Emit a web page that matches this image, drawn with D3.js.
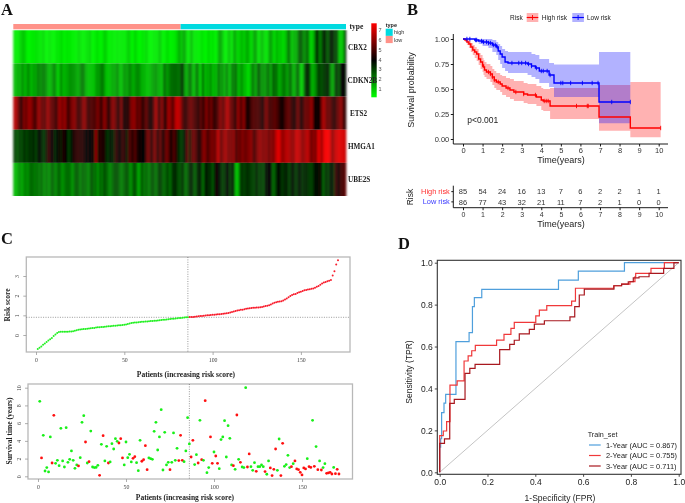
<!DOCTYPE html>
<html><head><meta charset="utf-8">
<style>
html,body{margin:0;padding:0;background:#fff}
svg{display:block;filter:blur(0.35px)}
text{font-family:"Liberation Sans",Arial,sans-serif}
</style>
<script src="https://cdn.jsdelivr.net/npm/d3@7"></script>
</head><body><svg id="c" width="685" height="503"></svg>
<script>
const geneNames=["CBX2","CDKN2B","ETS2","HMGA1","UBE2S"];
const groupCounts=[["low",86],["high",85]];
const colorbarTicks=[1,2,3,4,5,6,7];
const cbx2=[.5,.4,.4,.7,.9,1.0,.6,.3,.3,.5,.4,.6,.5,.5,.4,.8,.3,.3,.5,.4,.3,.3,.6,.4,.7,.5,.3,.6,.4,.5,.3,.4,.3,.7,.5,.4,.3,.6,.5,.8,.3,.3,.5,.6,.3,.4,.7,.9,.4,.3,.5,.4,.3,.6,.3,.5,.4,.4,.7,.9,.4,.3,.8,.5,.3,.3,.6,.4,.8,.3,.3,.3,.5,.4,.6,1.0,.4,.3,.5,.7,.3,.4,.4,.6,.9,1.5,.8,1.6,1.2,.5,.4,1.3,.6,.4,.5,.3,.6,.5,.3,.4,.8,.3,.7,.3,.4,1.2,1.6,1.0,.5,.3,1.0,.9,.4,1.6,1.1,.7,.9,1.3,.8,1.2,1.5,.9,.6,1.3,1.7,.8,.4,1.3,.9,.6,.5,1.3,1.7,.9,.7,1.4,.8,1.1,.6,.9,1.2,2.6,1.4,.9,1.5,1.2,2.2,2.8,2.4,1.7,2.1,2.5,.9,.8,1.4,3.0,3.4,1.9,2.5,3.6,3.3,2.4,3.1,3.7,3.4,2.6,3.3,1.0,.9,1.2,3.2];
const cdkn2b=[1.3,1.0,1.6,1.1,1.9,1.4,1.2,2.0,1.5,1.1,1.7,1.3,2.1,1.9,1.8,2.2,1.9,1.5,1.1,1.3,1.8,2.0,1.0,.9,2.1,1.2,1.3,1.4,1.6,1.8,1.7,1.7,1.5,1.3,1.8,2.3,1.9,1.2,1.1,1.0,1.1,1.0,1.6,1.6,1.7,2.3,1.9,1.2,1.0,1.1,1.3,1.5,1.3,2.1,1.2,1.0,1.5,1.8,1.4,2.0,1.8,1.3,1.6,1.9,1.9,1.5,1.2,1.4,1.0,1.1,1.2,1.5,1.6,1.8,1.3,1.4,1.0,2.6,1.8,1.7,2.2,2.3,2.4,2.4,2.3,2.2,3.3,2.8,1.3,1.4,2.3,2.1,1.0,1.4,2.6,1.2,.9,2.9,1.0,1.6,1.2,2.1,.9,1.6,.9,2.8,1.3,2.2,1.0,2.2,1.5,1.0,2.4,1.8,2.6,1.2,1.3,1.9,1.1,1.2,.6,.8,1.8,2.3,1.2,2.3,2.8,1.6,1.9,1.5,2.3,2.1,1.4,2.7,2.2,2.3,1.3,1.6,2.0,2.3,1.5,1.8,2.7,1.4,1.2,2.0,2.7,1.1,.7,2.3,3.3,3.6,2.7,1.2,1.5,1.9,2.9,3.0,2.6,3.2,3.0,3.7,2.9,1.6,1.4,3.2,3.0,2.6,3.9,3.9,3.8];
const ets2=[6.6,6.5,5.6,5.0,4.3,6.0,5.3,6.0,6.2,5.8,5.2,4.7,6.0,6.2,5.3,5.6,5.0,6.3,5.9,5.4,5.3,5.0,4.8,6.2,6.0,5.6,6.3,5.2,4.7,5.6,5.8,6.1,5.3,4.8,5.0,5.6,6.2,5.5,4.7,5.0,5.2,4.9,5.3,5.8,5.1,4.5,6.0,5.8,4.6,4.5,5.8,6.0,5.5,4.8,4.4,6.0,4.2,4.3,4.5,4.4,5.8,6.0,6.1,5.0,5.6,5.3,4.3,5.0,5.5,4.5,4.4,4.3,5.6,6.6,4.7,5.2,6.0,4.8,4.2,6.2,6.2,5.3,5.4,6.8,6.8,6.7,5.6,4.9,4.5,5.0,5.4,5.6,5.2,5.0,4.8,4.5,5.4,4.4,5.3,6.0,4.4,5.8,5.0,4.5,4.9,5.3,6.1,5.3,5.6,6.4,6.6,5.5,5.4,5.0,4.3,6.2,5.4,5.2,6.2,4.4,4.2,4.5,5.0,5.2,5.0,5.1,4.9,4.6,4.1,5.6,5.7,4.8,5.0,5.1,5.3,5.0,4.7,4.2,4.0,4.8,5.2,5.4,5.0,4.6,4.2,5.0,5.7,4.3,4.4,5.2,5.6,5.4,5.8,6.2,3.8,4.3,4.0,3.9,5.8,6.6,5.9,5.3,5.6,5.0,4.7,4.5,5.4,5.6,6.2,5.0,4.6];
const hmga1=[3.0,2.8,2.6,3.2,2.7,3.4,2.9,3.0,3.3,3.0,3.7,2.8,3.5,4.0,3.5,3.0,3.4,4.4,4.8,4.0,4.1,3.3,3.8,4.1,3.4,4.3,4.2,3.7,2.9,3.5,4.0,4.6,4.4,4.8,4.4,4.6,4.2,4.0,4.1,4.0,4.2,3.8,6.3,3.7,4.6,4.3,4.4,3.6,3.0,3.7,3.5,3.4,4.8,4.4,3.9,4.4,4.8,4.3,3.4,5.1,5.0,4.0,5.3,4.3,4.2,4.1,3.9,3.9,5.3,5.7,5.0,4.3,6.0,5.3,3.9,5.6,4.6,4.2,5.6,5.5,4.4,4.3,5.2,4.6,3.5,3.2,2.9,3.4,3.8,5.6,3.4,5.0,5.6,5.3,4.8,4.2,4.7,5.8,6.0,5.0,5.2,5.6,5.8,5.4,6.0,7.0,5.2,5.8,6.2,6.4,5.5,6.0,5.6,6.2,4.4,5.7,5.2,5.9,5.7,5.4,5.8,5.9,6.1,4.8,5.3,5.8,6.2,6.0,5.8,5.9,6.0,5.3,6.1,5.6,6.3,7.0,7.4,6.5,6.0,6.4,6.7,6.6,6.3,6.0,6.2,7.0,6.8,6.6,5.9,6.2,6.5,6.8,5.9,5.5,6.2,5.4,7.1,7.2,6.0,7.3,7.6,7.6,7.5,6.4,6.0,7.0,6.9,7.4,7.0,7.2,6.8];
const ube2s=[1.3,1.1,1.6,1.8,1.4,1.9,2.0,1.7,2.3,2.4,2.2,2.1,2.4,1.9,2.6,1.8,2.0,2.2,1.7,2.4,2.5,1.9,2.1,2.7,2.0,1.7,2.2,2.3,2.4,2.1,1.6,2.4,2.6,2.5,1.9,2.6,2.2,2.4,1.8,2.3,2.9,2.1,2.5,1.6,2.7,2.0,2.8,2.6,2.3,1.9,2.1,2.6,2.7,2.8,2.4,2.0,2.3,2.5,2.9,2.2,1.7,2.5,2.8,2.2,1.2,2.4,2.6,2.0,2.7,1.9,2.4,2.8,2.5,2.1,2.9,3.1,2.7,2.3,2.6,3.0,2.2,3.0,3.3,3.4,2.8,2.6,3.0,3.2,2.1,2.6,3.2,3.5,3.0,2.4,3.3,3.6,3.4,2.2,3.5,3.7,3.1,3.4,2.4,3.8,4.2,3.9,3.4,2.9,3.1,3.6,3.9,2.9,3.6,3.2,1.0,1.2,2.8,3.3,2.9,3.1,3.4,3.0,3.1,2.8,3.2,3.5,2.7,3.4,2.6,3.7,3.8,4.0,3.9,2.3,2.7,3.5,3.9,3.3,3.1,3.4,3.6,2.9,3.2,3.8,3.3,3.0,3.5,3.9,3.1,3.3,3.4,3.2,3.0,2.9,3.5,3.8,3.6,4.2,3.4,2.2,3.7,2.8,3.3,3.9,3.2,4.8,4.6,3.8,5.0,4.9,5.3];

const kmTicks=[0,1,2,3,4,5,6,7,8,9,10];
const kmYTicks=[0,.25,.5,.75,1];
const highTime=[0,.1,.2,.3,.4,.5,.6,.7,.8,.9,1,1.05,1.1,1.2,1.4,1.5,1.6,1.7,1.9,2,2.2,2.4,2.6,3.1,3.3,3.75,4,4.1,4.45,6.95,8.55,10.1];
const highSurv=[1,.99,.97,.95,.92,.89,.87,.85,.8,.77,.74,.72,.69,.67,.65,.62,.59,.57,.55,.53,.51,.49,.47,.45,.44,.42,.39,.38,.33,.22,.11,.11];
const highUpper=[1,1,.99,.98,.96,.94,.92,.9,.86,.84,.81,.79,.77,.75,.73,.7,.68,.66,.64,.63,.61,.6,.58,.56,.55,.53,.51,.5,.51,.54,.57,.57];
const highLower=[1,.97,.94,.91,.87,.84,.81,.78,.74,.7,.67,.64,.62,.6,.57,.54,.51,.49,.47,.44,.42,.4,.38,.36,.35,.33,.29,.28,.2,.083,.017,.017];
const lowTime=[0,.6,.8,1,1.3,1.5,1.7,1.8,1.9,2,2.15,2.3,3.3,3.5,3.7,3.9,4.4,4.65,6.95,8.55];
const lowSurv=[1,.99,.98,.97,.96,.94,.92,.88,.85,.82,.77,.76,.75,.73,.71,.68,.64,.56,.37,.37];
const lowUpper=[1,1,1,1,1,.99,.97,.95,.93,.9,.88,.87,.87,.85,.84,.8,.76,.745,.87,.87];
const lowLower=[1,.97,.95,.93,.91,.87,.84,.79,.75,.71,.68,.66,.64,.62,.6,.56,.52,.42,.157,.157];
const highCensor=[1,1.3,1.4,1.5,1.6,1.8,2.3,2.7,3.1,3.7,4.15,4.25,4.35,5.8,6.35,6.4,10.1];
const lowCensor=[.2,.35,.65,.7,.95,1.05,1.2,1.3,1.4,1.55,1.65,1.75,2.5,2.85,3,3.2,3.35,3.5,3.75,4,4.1,4.3,4.45,5,5.1,5.5,6.1,6.6,6.9,7.6,8.55];
const riskTableHigh=[85,54,24,16,13,7,6,2,2,1,1];
const riskTableLow=[86,77,43,32,21,11,7,2,1,0,0];

const riskScore=[-.71,-.65,-.58,-.5,-.43,-.35,-.28,-.22,-.15,-.05,.03,.1,.15,.16,.16,.17,.17,.17,.18,.18,.19,.21,.24,.27,.28,.29,.3,.31,.32,.33,.34,.35,.36,.38,.39,.4,.41,.41,.42,.43,.44,.45,.46,.47,.47,.48,.49,.5,.51,.52,.54,.56,.58,.61,.62,.63,.64,.65,.66,.67,.68,.69,.69,.7,.71,.71,.72,.73,.74,.75,.76,.77,.78,.79,.8,.81,.82,.83,.84,.85,.86,.87,.88,.89,.9,.9,.91,.92,.92,.93,.94,.95,.96,.97,.98,.99,1,1.01,1.02,1.03,1.03,1.04,1.05,1.06,1.07,1.08,1.09,1.1,1.12,1.15,1.17,1.19,1.22,1.24,1.26,1.28,1.29,1.31,1.33,1.35,1.36,1.37,1.38,1.39,1.4,1.4,1.41,1.43,1.45,1.47,1.49,1.51,1.55,1.6,1.64,1.67,1.69,1.7,1.72,1.76,1.8,1.85,1.92,1.98,2.03,2.07,2.09,2.13,2.17,2.2,2.24,2.27,2.29,2.31,2.33,2.35,2.37,2.4,2.45,2.49,2.56,2.62,2.67,2.7,2.73,2.76,2.8,3.03,3.24,3.58,3.8];
const riskThreshold=.9;
const lowCount=86;
const survTime=[8.46,2.07,4.62,.6,.98,.49,4.44,1.5,6.88,1.47,1.8,1.2,5.41,1.73,1.05,5.49,1.58,1.92,2.86,1.8,.9,1.28,1.17,2.1,6.09,6.84,3.87,1.5,1.65,5.11,1.05,.98,1,1.24,.11,3.61,4.59,1.73,3.38,1.5,1.62,3.68,3.08,4.25,3.95,3.76,4.25,2.07,1.28,3.87,2.1,2.48,1.62,2.03,2.22,1.54,.64,4.06,1.7,1.88,3.46,.75,2.07,1.99,1.92,5.08,6.09,2.97,4.44,7.52,.71,4.96,1.28,1.58,.75,1.58,4.89,1.8,3.16,1.77,4.62,1.8,1.65,2.86,6.62,3.65,2.18,4.06,1.32,2.44,1.5,6.32,1.88,1.8,8.53,.41,.98,4.44,1.47,2.74,2.29,1.47,.86,4.14,4.44,6.28,2.18,5.71,4.29,1.28,1.2,.79,6.92,1.92,1.58,1.05,.98,10,1.05,2.52,1.09,.68,1.54,.56,1.09,1.09,1.28,1.09,.53,.23,1.73,.94,.08,.79,3.08,.68,4.21,.08,3.72,1.13,1.32,2.37,.98,1.09,1.43,1.73,.83,.75,.45,.15,.94,.83,1.99,1.09,1,6.32,1.13,3.35,.75,1.73,.71,.98,1.43,.34,.38,.45,.26,1,.3,.79,.26];
const survDead=[0,1,0,0,0,0,0,1,1,0,0,0,0,0,0,0,0,0,0,0,0,0,1,0,0,0,1,0,1,0,0,0,0,0,1,0,1,0,0,1,0,0,0,0,0,1,1,1,0,0,0,0,0,1,1,0,0,0,1,1,1,1,0,0,0,0,0,0,0,0,0,0,0,0,1,0,0,0,0,1,1,1,0,0,0,0,1,1,0,0,1,0,1,0,1,0,0,1,1,0,1,1,0,0,0,0,0,0,0,0,1,0,1,0,1,0,0,0,1,1,0,0,0,1,0,0,0,0,1,0,0,1,1,1,1,0,0,1,1,0,0,0,0,1,0,1,1,1,1,1,1,1,0,1,1,0,1,0,1,0,1,0,0,1,1,1,1,0,1,1,1];
const patientTicks=[0,50,100,150];
const riskTicks=[0,1,2,3];
const survTicks=[0,2,4,6,8,10];

const rocTicks=[0,.2,.4,.6,.8,1];
const roc1Fpr=[0,.004,.008,.018,.025,.068,.123,.137,.145,.176,.497,.58,.773,1];
const roc1Tpr=[.12,.16,.285,.33,.372,.623,.666,.79,.833,.873,.917,.96,1,1];
const roc2Fpr=[0,.015,.029,.043,.073,.102,.119,.134,.149,.238,.269,.298,.312,.402,.417,.448,.552,.568,.728,.761,.796,.817,.82,.884,.94,1];
const roc2Tpr=[.175,.197,.242,.416,.436,.531,.555,.58,.606,.631,.658,.687,.715,.746,.774,.795,.817,.878,.89,.898,.91,.933,.949,.973,1,1];
const roc3Fpr=[0,.02,.042,.061,.106,.126,.148,.251,.293,.312,.333,.375,.396,.438,.545,.565,.584,.605,.729,.761,.789,.81,.834,.876,.937,.98,1];
const roc3Tpr=[.138,.159,.329,.348,.472,.496,.515,.585,.61,.63,.66,.682,.707,.723,.742,.79,.846,.874,.89,.898,.909,.928,.933,.949,.973,1,1];
const rocLabels=["1-Year (AUC = 0.867)","2-Year (AUC = 0.755)","3-Year (AUC = 0.711)"];
const rocColors=["#4f9fdc","#f0383a","#a8181f"];

const svg=d3.select("#c");
const serif='"Liberation Serif","Times New Roman",serif';
function txt(x,y,s,o={}){
  const t=svg.append("text").attr("x",x).attr("y",y).text(s)
   .attr("font-size",o.size||8).attr("fill",o.fill||"#222");
  if(o.anchor)t.attr("text-anchor",o.anchor);
  if(o.serif)t.style("font-family",serif);
  if(o.bold)t.attr("font-weight","bold");
  if(o.rot!==undefined)t.attr("transform",`rotate(${o.rot},${x},${y})`);
  return t;
}
[["A",1,15],["B",407,15],["C",1,244],["D",398,249]].forEach(d=>txt(d[1],d[2],d[0],{size:16.5,serif:true,bold:true,fill:"#111"}));

/* A: heatmap */
const series=[cbx2,cdkn2b,ets2,hmga1,ube2s];
const hx=d3.scaleBand().domain(d3.range(cbx2.length)).range([13.3,346]);
const hy=d3.scaleBand().domain(geneNames).range([30.3,196]);
const hc=d3.scaleLinear().domain([.15,3.92,7.7]).range(["#00ff00","#000000","#ff0000"]);
const defs=svg.append("defs");
const blurF=defs.append("filter").attr("id","hb").attr("x","-2%").attr("width","104%").attr("y",0).attr("height","100%");
blurF.append("feGaussianBlur").attr("stdDeviation","0.9 0");
const heat=svg.append("g").attr("filter","url(#hb)");
series.forEach((vals,r)=>{
  heat.append("g").selectAll("rect").data(vals).join("rect")
   .attr("x",(d,i)=>hx(i)).attr("width",hx.bandwidth()+.3)
   .attr("y",hy(geneNames[r])).attr("height",hy.bandwidth())
   .attr("fill",d=>hc(d));
});
const typeColor={high:"#00DAE0",low:"#FF9289"};
let cum=0;
groupCounts.forEach(([n,c])=>{
  svg.append("rect").attr("x",hx(cum)).attr("y",24).attr("height",5.3)
   .attr("width",c*hx.step()).attr("fill",typeColor[n]);
  cum+=c;
});
txt(349.5,29,"type",{size:7.5,serif:true,bold:true});
const cbY=d3.scaleLinear().domain([.15,7.7]).range([97.3,23.3]);
const grad=defs.append("linearGradient").attr("id","cb").attr("x1",0).attr("x2",0).attr("y1",1).attr("y2",0);
[[0,"#00ff00"],[.5,"#000"],[1,"#ff0000"]].forEach(s=>grad.append("stop").attr("offset",s[0]).attr("stop-color",s[1]));
svg.append("rect").attr("x",371.3).attr("y",23.3).attr("width",5.4).attr("height",74).attr("fill","url(#cb)");
const glabelX={CBX2:348,CDKN2B:347.5,ETS2:350,HMGA1:348,UBE2S:348};
geneNames.forEach(g=>txt(glabelX[g],hy(g)+hy.bandwidth()/2+2.5+(g==="CBX2"?1:0),g,{size:7.2,serif:true,bold:true}));
colorbarTicks.forEach(t=>txt(378.5,cbY(t)+2,t,{size:5.5,fill:"#555"}));
txt(385.7,27,"type",{size:5.5,bold:true,fill:"#222"});
svg.append("rect").attr("x",385.7).attr("y",28.7).attr("width",7).attr("height",7.2).attr("fill",typeColor.high);
svg.append("rect").attr("x",385.7).attr("y",35.9).attr("width",7).attr("height",7.2).attr("fill",typeColor.low);
txt(394,34,"high",{size:5.5,fill:"#333"});
txt(394,41.5,"low",{size:5.5,fill:"#333"});

/* B: Kaplan-Meier */
const kx=d3.scaleLinear().domain([0,10]).range([463,658.7]);
const ky=d3.scaleLinear().domain([0,1]).range([139,39]);
function band(t,u,l,c){
  const a=d3.area().x((d,i)=>kx(t[i])).y0((d,i)=>ky(l[i])).y1((d,i)=>ky(u[i])).curve(d3.curveStepAfter);
  svg.append("path").attr("d",a(t)).attr("fill",c).attr("opacity",.3);
}
function kline(t,s,c,cen){
  const l=d3.line().x((d,i)=>kx(t[i])).y((d,i)=>ky(s[i])).curve(d3.curveStepAfter);
  svg.append("path").attr("d",l(t)).attr("fill","none").attr("stroke",c).attr("stroke-width",1.4);
  const g=svg.append("g").attr("stroke",c).attr("stroke-width",.9);
  cen.forEach(v=>{
    const sv=s[Math.max(0,d3.bisectRight(t,v)-1)];
    g.append("line").attr("x1",kx(v)).attr("x2",kx(v)).attr("y1",ky(sv)-2.2).attr("y2",ky(sv)+2.2);
  });
}
band(highTime,highUpper,highLower,"#ff0000");
band(lowTime,lowUpper,lowLower,"#0000ff");
kline(highTime,highSurv,"#ff0000",highCensor);
kline(lowTime,lowSurv,"#0000ff",lowCensor);
function styleAxis(g,size,fill,stroke,sw){
  g.selectAll("text").attr("font-size",size).attr("fill",fill).style("font-family",'"Liberation Sans",Arial,sans-serif');
  g.selectAll("line,path").attr("stroke",stroke).attr("stroke-width",sw);
}
let g=svg.append("g").attr("transform","translate(0,144)").call(d3.axisBottom(kx).tickValues(kmTicks).tickFormat(d3.format("d")).tickSize(2.5).tickPadding(1.5));
g.select(".domain").remove();
g.append("path").attr("d","M453.3,0H668").attr("stroke","#000");
styleAxis(g,7.5,"#333","#000",.9);
g=svg.append("g").attr("transform","translate(453.3,0)").call(d3.axisLeft(ky).tickValues(kmYTicks).tickFormat(d3.format(".2f")).tickSize(2.5).tickPadding(1.5));
g.select(".domain").remove();
g.append("path").attr("d","M0,34V144").attr("stroke","#000");
styleAxis(g,7.5,"#333","#000",.9);
txt(411,90,"Survival probability",{size:9,anchor:"middle",rot:-90,fill:"#222"}).attr("dy",3);
txt(561,163,"Time(years)",{size:9,anchor:"middle"});
txt(467.3,123,"p<0.001",{size:8.5});
txt(510,19.5,"Risk",{size:6.5});
[[526.7,"#ff0000","High risk",541.7],[572.3,"#0000ff","Low risk",587]].forEach(d=>{
  svg.append("rect").attr("x",d[0]).attr("y",13).attr("width",11.6).attr("height",9).attr("fill",d[1]).attr("opacity",.3);
  svg.append("line").attr("x1",d[0]).attr("x2",d[0]+11.6).attr("y1",17.5).attr("y2",17.5).attr("stroke",d[1]).attr("stroke-width",1.2);
  svg.append("line").attr("x1",d[0]+5.8).attr("x2",d[0]+5.8).attr("y1",15).attr("y2",20).attr("stroke",d[1]).attr("stroke-width",.9);
  txt(d[3],19.5,d[2],{size:6.5});
});
/* risk table */
const tableY=d3.scaleBand().domain(["High risk","Low risk"]).range([186.5,207]);
g=svg.append("g").attr("transform","translate(0,207.7)").call(d3.axisBottom(kx).tickValues(kmTicks).tickFormat(d3.format("d")).tickSize(2.5).tickPadding(1.5));
g.select(".domain").remove();
g.append("path").attr("d","M453.3,0H668").attr("stroke","#000");
styleAxis(g,7,"#333","#000",.9);
g=svg.append("g").attr("transform","translate(453.3,0)").call(d3.axisLeft(tableY).tickSize(2).tickPadding(1.5));
g.select(".domain").remove();
g.append("path").attr("d","M0,185.7V207.7").attr("stroke","#000");
styleAxis(g,7.4,"#333","#000",.9);
g.selectAll(".tick text").attr("fill",d=>d==="High risk"?"#ff3030":"#3a3aff");
kmTicks.forEach((t,i)=>{
  txt(kx(t),tableY("High risk")+tableY.bandwidth()/2+2.7,riskTableHigh[i],{size:7.5,anchor:"middle",fill:"#333"});
  txt(kx(t),tableY("Low risk")+tableY.bandwidth()/2+2.7,riskTableLow[i],{size:7.5,anchor:"middle",fill:"#333"});
});
txt(410,197,"Risk",{size:8.5,anchor:"middle",rot:-90}).attr("dy",3);
txt(561,227,"Time(years)",{size:9,anchor:"middle"});

/* C: risk score and survival scatter */
function rPanel(box,x,y,xt,yt){
  svg.append("rect").attr("x",box[0]).attr("y",box[1]).attr("width",box[2]-box[0]).attr("height",box[3]-box[1])
   .attr("fill","none").attr("stroke","#b8b8b8").attr("stroke-width",1.3);
  let a=svg.append("g").attr("transform",`translate(0,${box[3]})`).call(d3.axisBottom(x).tickValues(xt).tickFormat(d3.format("d")).tickSize(3).tickPadding(2.5));
  a.select(".domain").remove();
  a.selectAll("text").attr("font-size",5.8).attr("fill","#444").style("font-family",serif);
  a.selectAll("line").attr("stroke","#999").attr("stroke-width",.8);
  a=svg.append("g").attr("transform",`translate(${box[0]},0)`).call(d3.axisLeft(y).tickValues(yt).tickFormat(d3.format("d")).tickSize(3).tickPadding(2.5));
  a.select(".domain").remove();
  a.selectAll("text").attr("font-size",5.8).attr("fill","#444").style("font-family",serif)
   .attr("text-anchor","middle").attr("dy",0).attr("x",-7).attr("transform","rotate(-90,-7,0)");
  a.selectAll("line").attr("stroke","#999").attr("stroke-width",.8);
}
const rx=d3.scaleLinear().domain([0,150]).range([36,300.9]);
const ry=d3.scaleLinear().domain([0,3]).range([335,276]);
rPanel([26.3,257,350,352],rx,ry,patientTicks,riskTicks);
svg.append("line").attr("x1",26.3).attr("x2",350).attr("y1",ry(riskThreshold)).attr("y2",ry(riskThreshold)).attr("stroke","#555").attr("stroke-width",.6).attr("stroke-dasharray","1,1.4");
svg.append("line").attr("x1",rx(lowCount)).attr("x2",rx(lowCount)).attr("y1",257).attr("y2",352).attr("stroke","#555").attr("stroke-width",.6).attr("stroke-dasharray","1,1.4");
svg.append("g").selectAll("circle").data(riskScore).join("circle")
 .attr("cx",(d,i)=>rx(i+1)).attr("cy",d=>ry(d)).attr("r",1)
 .attr("fill",(d,i)=>i<lowCount?"#22f022":"#f81c2c");
txt(8,305,"Risk score",{size:7.5,serif:true,bold:true,anchor:"middle",rot:-90}).attr("dy",2);
txt(186,376.5,"Patients (increasing risk score)",{size:7.5,serif:true,bold:true,anchor:"middle"});

const sx=d3.scaleLinear().domain([0,150]).range([38,302]);
const sy=d3.scaleLinear().domain([0,10]).range([476.3,387.7]);
rPanel([28,384,352.5,479],sx,sy,patientTicks,survTicks);
svg.append("line").attr("x1",sx(lowCount)).attr("x2",sx(lowCount)).attr("y1",384).attr("y2",479).attr("stroke","#555").attr("stroke-width",.6).attr("stroke-dasharray","1,1.4");
svg.append("g").selectAll("circle").data(survTime).join("circle")
 .attr("cx",(d,i)=>sx(i+1)).attr("cy",d=>sy(d)).attr("r",1.4)
 .attr("fill",(d,i)=>survDead[i]?"#ff1010":"#18f018");
txt(9.5,431,"Survival time (years)",{size:7.5,serif:true,bold:true,anchor:"middle",rot:-90}).attr("dy",2);
txt(185,500,"Patients (increasing risk score)",{size:7.5,serif:true,bold:true,anchor:"middle"});

/* D: ROC */
const dx=d3.scaleLinear().domain([0,1]).range([439.7,678.7]);
const dy=d3.scaleLinear().domain([0,1]).range([472.3,262.7]);
svg.append("line").attr("x1",dx(0)).attr("y1",dy(0)).attr("x2",dx(1)).attr("y2",dy(1)).attr("stroke","#c4c4c4").attr("stroke-width",1);
[[roc1Fpr,roc1Tpr],[roc2Fpr,roc2Tpr],[roc3Fpr,roc3Tpr]].forEach((r,k)=>{
  const f=[0].concat(r[0]),t=[0].concat(r[1]);
  const l=d3.line().x((d,i)=>dx(f[i])).y((d,i)=>dy(t[i])).curve(d3.curveStepAfter);
  svg.append("path").attr("d",l(f)).attr("fill","none").attr("stroke",rocColors[k]).attr("stroke-width",1.2);
});
svg.append("rect").attr("x",437.3).attr("y",260.3).attr("width",243.7).attr("height",214).attr("fill","none").attr("stroke","#333").attr("stroke-width",1.1);
g=svg.append("g").attr("transform","translate(0,474.3)").call(d3.axisBottom(dx).tickValues(rocTicks).tickFormat(d3.format(".1f")).tickSize(2.5).tickPadding(2));
g.select(".domain").remove();styleAxis(g,8.5,"#222","#333",.9);
g=svg.append("g").attr("transform","translate(437.3,0)").call(d3.axisLeft(dy).tickValues(rocTicks).tickFormat(d3.format(".1f")).tickSize(2.5).tickPadding(2));
g.select(".domain").remove();styleAxis(g,8.5,"#222","#333",.9);
txt(560,501,"1-Specificity (FPR)",{size:8.5,anchor:"middle"});
txt(409,372,"Sensitivity (TPR)",{size:8.5,anchor:"middle",rot:-90}).attr("dy",3);
txt(587.7,437,"Train_set",{size:7.2});
rocLabels.forEach((s,i)=>{
  const y=445+i*10.5;
  svg.append("line").attr("x1",589).attr("x2",600.7).attr("y1",y).attr("y2",y).attr("stroke",rocColors[i]).attr("stroke-width",1.2);
  txt(606,y+2.6,s,{size:7.4});
});
</script></body></html>
